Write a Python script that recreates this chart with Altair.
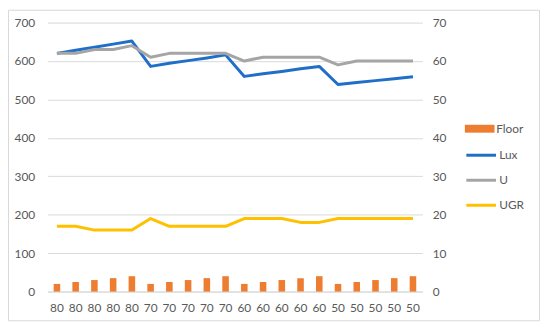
import json
import altair as alt
import pandas as pd

# ---- data ----
labels = ["80", "80", "80", "80", "80",
          "70", "70", "70", "70", "70",
          "60", "60", "60", "60", "60",
          "50", "50", "50", "50", "50"]
floor = [20, 25, 30, 35, 40,
         20, 25, 30, 35, 40,
         20, 25, 30, 35, 40,
         20, 25, 30, 35, 40]
lux = [620, 628, 636, 644, 652,
       586, 594, 601, 608, 616,
       560, 567, 573, 580, 586,
       539, 544, 549, 554, 559]
u = [62, 62, 63, 63, 64,
     61, 62, 62, 62, 62,
     60, 61, 61, 61, 61,
     59, 60, 60, 60, 60]
ugr = [17, 17, 16, 16, 16,
       19, 17, 17, 17, 17,
       19, 19, 19, 18, 18,
       19, 19, 19, 19, 19]

idx = list(range(len(labels)))
bars_df = pd.DataFrame({"idx": idx, "value": floor, "series": ["Floor"] * len(idx)})
lux_df = pd.DataFrame({"idx": idx, "value": lux, "series": ["Lux"] * len(idx)})
right_df = pd.DataFrame({
    "idx": idx + idx,
    "value": u + ugr,
    "series": ["U"] * len(idx) + ["UGR"] * len(idx),
})

FONT = "Lato"
GRAY_TXT = "#595959"
GRID = "#D9D9D9"
FS = 12

label_expr = json.dumps(labels) + "[datum.value]"
x_enc = alt.X(
    "idx:O",
    title=None,
    scale=alt.Scale(paddingInner=0.65, paddingOuter=0.325),
    axis=alt.Axis(labelExpr=label_expr, labelAngle=0, ticks=False,
                  domainColor=GRID, labelPadding=11, labelColor=GRAY_TXT,
                  labelFont=FONT, labelFontSize=FS),
)

left_scale = alt.Scale(domain=[0, 700], nice=False)
right_scale = alt.Scale(domain=[0, 70], nice=False)

left_axis = alt.Axis(values=[0, 100, 200, 300, 400, 500, 600, 700], title=None,
                     domain=False, ticks=False, gridColor=GRID, labelPadding=13,
                     labelColor=GRAY_TXT, labelFont=FONT, labelFontSize=FS)
right_axis = alt.Axis(values=[0, 10, 20, 30, 40, 50, 60, 70], title=None, orient="right",
                      domain=False, ticks=False, grid=False, labelPadding=10,
                      labelColor=GRAY_TXT, labelFont=FONT, labelFontSize=FS)

fill_scale = alt.Scale(domain=["Floor"], range=["#ED7D31"])
stroke_scale = alt.Scale(domain=["Lux", "U", "UGR"], range=["#1F6FC9", "#A5A5A5", "#FFC000"])

fill_legend = alt.Legend(title=None, orient="none", legendX=429.5, legendY=99.8,
                         symbolType="M-2,-0.533H2V0.533H-2Z", symbolSize=225,
                         symbolStrokeWidth=0, labelOffset=9.2, padding=0,
                         labelFont=FONT, labelFontSize=FS, labelColor=GRAY_TXT)
stroke_legend = alt.Legend(title=None, orient="none", legendX=429.5, legendY=125.1,
                           symbolType="M-2,0H2", symbolSize=225, symbolStrokeWidth=3,
                           rowPadding=10.3, labelOffset=9.2, padding=0,
                           labelFont=FONT, labelFontSize=FS, labelColor=GRAY_TXT)

bars = alt.Chart(bars_df).mark_bar().encode(
    x=x_enc,
    y=alt.Y("value:Q", scale=left_scale, axis=left_axis),
    fill=alt.Fill("series:N", scale=fill_scale, legend=fill_legend),
)
lux_line = alt.Chart(lux_df).mark_line(strokeWidth=3, strokeJoin="round").encode(
    x=x_enc,
    y=alt.Y("value:Q", scale=left_scale, axis=left_axis),
    stroke=alt.Stroke("series:N", scale=stroke_scale, legend=stroke_legend),
)
right_lines = alt.Chart(right_df).mark_line(strokeWidth=3, strokeJoin="round").encode(
    x=x_enc,
    y=alt.Y("value:Q", scale=right_scale, axis=right_axis),
    stroke=alt.Stroke("series:N", scale=stroke_scale, legend=stroke_legend),
    detail="series:N",
)

frame = alt.Chart(pd.DataFrame({"k": [0]})).mark_rect(
    fill="transparent", stroke=GRID, strokeWidth=1
).encode(
    x=alt.value(-39.5), x2=alt.value(497.5), y=alt.value(-12.5), y2=alt.value(301.5)
)

left = alt.layer(bars, lux_line)
chart = alt.layer(frame, left, right_lines).resolve_scale(y="independent").properties(
    width=379, height=272,
    autosize=alt.AutoSizeParams(type="none"),
    padding={"left": 40, "top": 13, "right": 121, "bottom": 30},
).configure_view(stroke=None)

chart.save("out.html", embed_options={"renderer": "svg", "actions": False})
